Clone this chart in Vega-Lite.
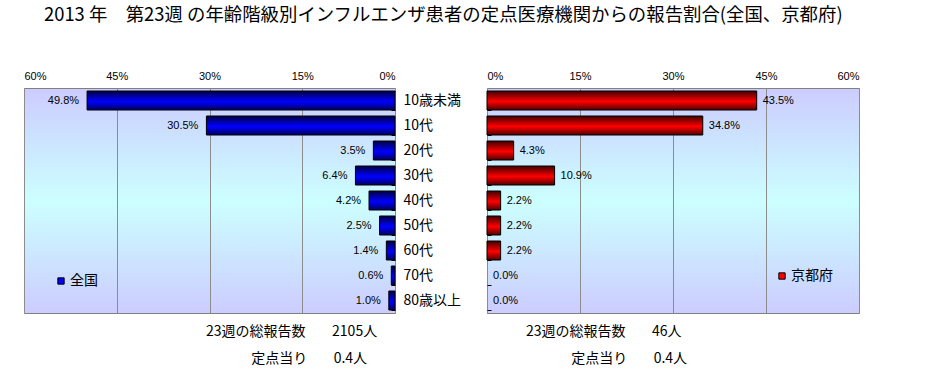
{
  "$schema": "https://vega.github.io/schema/vega-lite/v6.json",
  "padding": {"left": 23, "top": 6, "right": 5, "bottom": 5},
  "background": "white",
  "title": {
    "text": "2013 年　第23週 の年齢階級別インフルエンザ患者の定点医療機関からの報告割合(全国、京都府)",
    "font": "Noto Sans CJK JP", "fontSize": 18.4, "fontWeight": "normal", "color": "#000",
    "anchor": "start", "frame": "group", "dx": 20, "offset": 45
  },
  "datasets": {
    "rates": [
      {"region": "全国", "age": "10歳未満", "pct": 0.498},
      {"region": "全国", "age": "10代", "pct": 0.305},
      {"region": "全国", "age": "20代", "pct": 0.035},
      {"region": "全国", "age": "30代", "pct": 0.064},
      {"region": "全国", "age": "40代", "pct": 0.042},
      {"region": "全国", "age": "50代", "pct": 0.025},
      {"region": "全国", "age": "60代", "pct": 0.014},
      {"region": "全国", "age": "70代", "pct": 0.006},
      {"region": "全国", "age": "80歳以上", "pct": 0.010},
      {"region": "京都府", "age": "10歳未満", "pct": 0.435},
      {"region": "京都府", "age": "10代", "pct": 0.348},
      {"region": "京都府", "age": "20代", "pct": 0.043},
      {"region": "京都府", "age": "30代", "pct": 0.109},
      {"region": "京都府", "age": "40代", "pct": 0.022},
      {"region": "京都府", "age": "50代", "pct": 0.022},
      {"region": "京都府", "age": "60代", "pct": 0.022},
      {"region": "京都府", "age": "70代", "pct": 0.0},
      {"region": "京都府", "age": "80歳以上", "pct": 0.0}
    ]
  },
  "data": {"name": "rates"},
  "spacing": 92,
  "bounds": "flush",
  "resolve": {"scale": {"fill": "independent"}, "legend": {"fill": "independent"}},
  "hconcat": [
    {
      "width": 371, "height": 225,
      "view": {
        "stroke": "#808080",
        "fill": {"gradient": "linear", "x1": 0, "y1": 0, "x2": 0, "y2": 1,
          "stops": [{"offset": 0, "color": "#ccccff"}, {"offset": 0.5, "color": "#ccffff"}, {"offset": 1, "color": "#ccccff"}]}
      },
      "title": {
        "text": ["23週の総報告数　\u00a0\u00a0\u00a0\u00a02105人", "\u200b　　　\u00a0定点当り　\u00a0\u00a0\u00a0\u00a00.4人"],
        "orient": "bottom", "anchor": "start", "frame": "group", "align": "left",
        "dx": 182, "offset": 12, "fontSize": 14, "font": "Noto Sans CJK JP", "fontWeight": "normal",
        "lineHeight": 27, "baseline": "top", "color": "#000"
      },
      "transform": [{"filter": "datum.region === '全国'"}],
      "encoding": {
        "y": {
          "field": "age", "type": "nominal", "sort": null,
          "scale": {"paddingInner": 0.24, "paddingOuter": 0.12},
          "axis": {"orient": "right", "title": null, "domain": false, "ticks": true, "tickBand": "extent",
            "tickSize": -4, "tickColor": "#000", "labelPadding": 12, "labelFont": "Noto Sans CJK JP",
            "labelFontSize": 14, "labelColor": "#000"}
        },
        "x": {
          "field": "pct", "type": "quantitative",
          "scale": {"domain": [0, 0.6], "reverse": true},
          "axis": {"orient": "top", "title": null, "values": [0, 0.15, 0.3, 0.45, 0.6], "format": ".0%",
            "domain": false, "ticks": false, "grid": true, "gridColor": "#8c8c8c", "gridOpacity": 1,
            "labelPadding": 7, "labelFont": "Liberation Sans", "labelFontSize": 11, "labelColor": "#000"}
        }
      },
      "layer": [
        {
          "transform": [{"filter": "datum.pct > 0"}],
          "mark": {"type": "bar", "stroke": "#000", "strokeWidth": 1,
            "fill": {"gradient": "linear", "x1": 0, "y1": 0, "x2": 0, "y2": 1,
              "stops": [{"offset": 0, "color": "#000040"}, {"offset": 0.55, "color": "#0000ff"}, {"offset": 1, "color": "#000060"}]}}
        },
        {
          "mark": {"type": "bar", "opacity": 0},
          "encoding": {
            "fill": {"field": "region", "type": "nominal", "scale": {"range": ["#0000ff"]},
              "legend": {"orient": "none", "legendX": 30, "legendY": 186, "title": null, "padding": 0,
                "labelFont": "Noto Sans CJK JP", "labelFontSize": 14, "labelColor": "#000", "labelOffset": 2,
                "symbolType": "square", "symbolSize": 40, "symbolStrokeColor": "#000", "symbolStrokeWidth": 1,
                "symbolOpacity": 1}}
          }
        },
        {
          "mark": {"type": "text", "align": "right", "baseline": "middle", "dx": -8, "font": "Liberation Sans", "fontSize": 11, "color": "#000"},
          "encoding": {"text": {"field": "pct", "type": "quantitative", "format": ".1%"}}
        }
      ]
    },
    {
      "width": 372, "height": 225,
      "view": {
        "stroke": "#808080",
        "fill": {"gradient": "linear", "x1": 0, "y1": 0, "x2": 0, "y2": 1,
          "stops": [{"offset": 0, "color": "#ccccff"}, {"offset": 0.5, "color": "#ccffff"}, {"offset": 1, "color": "#ccccff"}]}
      },
      "title": {
        "text": ["23週の総報告数　\u00a0\u00a0\u00a0\u00a046人", "\u200b　　　\u00a0定点当り　\u00a0\u00a0\u00a0\u00a00.4人"],
        "orient": "bottom", "anchor": "start", "frame": "group", "align": "left",
        "dx": 39, "offset": 12, "fontSize": 14, "font": "Noto Sans CJK JP", "fontWeight": "normal",
        "lineHeight": 27, "baseline": "top", "color": "#000"
      },
      "transform": [{"filter": "datum.region === '京都府'"}],
      "encoding": {
        "y": {
          "field": "age", "type": "nominal", "sort": null,
          "scale": {"paddingInner": 0.24, "paddingOuter": 0.12},
          "axis": {"orient": "left", "title": null, "domain": false, "labels": false, "ticks": true, "tickBand": "extent",
            "tickSize": -4, "tickColor": "#000"}
        },
        "x": {
          "field": "pct", "type": "quantitative",
          "scale": {"domain": [0, 0.6]},
          "axis": {"orient": "top", "title": null, "values": [0, 0.15, 0.3, 0.45, 0.6], "format": ".0%",
            "domain": false, "ticks": false, "grid": true, "gridColor": "#8c8c8c", "gridOpacity": 1,
            "labelPadding": 7, "labelFont": "Liberation Sans", "labelFontSize": 11, "labelColor": "#000"}
        }
      },
      "layer": [
        {
          "transform": [{"filter": "datum.pct > 0"}],
          "mark": {"type": "bar", "stroke": "#000", "strokeWidth": 1,
            "fill": {"gradient": "linear", "x1": 0, "y1": 0, "x2": 0, "y2": 1,
              "stops": [{"offset": 0, "color": "#400000"}, {"offset": 0.55, "color": "#ff0000"}, {"offset": 1, "color": "#500000"}]}}
        },
        {
          "mark": {"type": "bar", "opacity": 0},
          "encoding": {
            "fill": {"field": "region", "type": "nominal", "scale": {"range": ["#ff0000"]},
              "legend": {"orient": "none", "legendX": 288, "legendY": 181, "title": null, "padding": 0,
                "labelFont": "Noto Sans CJK JP", "labelFontSize": 14, "labelColor": "#000", "labelOffset": 2,
                "symbolType": "square", "symbolSize": 40, "symbolStrokeColor": "#000", "symbolStrokeWidth": 1,
                "symbolOpacity": 1}}
          }
        },
        {
          "mark": {"type": "text", "align": "left", "baseline": "middle", "dx": 6, "font": "Liberation Sans", "fontSize": 11, "color": "#000"},
          "encoding": {"text": {"field": "pct", "type": "quantitative", "format": ".1%"}}
        }
      ]
    }
  ]
}
